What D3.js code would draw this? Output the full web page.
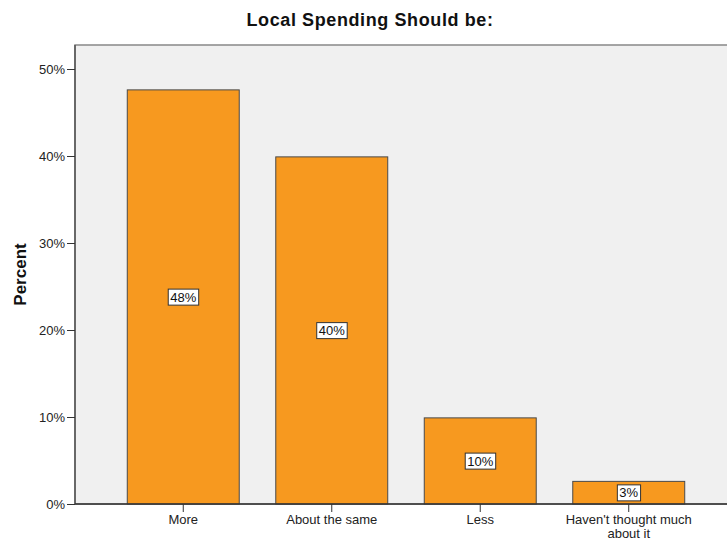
<!DOCTYPE html>
<html>
<head>
<meta charset="utf-8">
<script src="https://cdn.jsdelivr.net/npm/d3@7"></script>
<style>
  body { margin: 0; background: #fff; }
  text { font-family: "Liberation Sans", Arial, sans-serif; }
</style>
</head>
<body>
<div id="container"></div>
<script>
/* DATA */
const categories = ["More", "About the same", "Less", "Haven't thought much about it"];
const percents = [47.6, 39.9, 9.9, 2.6];
const barLabels = ["48%", "40%", "10%", "3%"];
const yTicks = [0, 10, 20, 30, 40, 50];

/* CONSTANTS */
const width = 727,
  height = 542,
  margin = { top: 45, bottom: 38, left: 75, right: -10 };

const svg = d3.select("#container")
  .append("svg")
  .attr("width", width)
  .attr("height", height);

// scales
const xScale = d3.scaleBand()
  .domain(categories)
  .range([margin.left, width - margin.right])
  .paddingInner(0.246)
  .paddingOuter(0.352);

const yScale = d3.scaleLinear()
  .domain([0, 50])
  .range([504, 69]);

// plot background
svg.append("rect")
  .attr("x", margin.left)
  .attr("y", margin.top)
  .attr("width", width - margin.left + 20)
  .attr("height", yScale(0) - margin.top)
  .attr("fill", "#f0f0f0")
  .attr("stroke", "#888")
  .attr("stroke-width", 1.5);

// bars
svg.selectAll(".bar")
  .data(percents)
  .join("rect")
  .attr("class", "bar")
  .attr("x", (d, i) => xScale(categories[i]))
  .attr("y", d => yScale(d))
  .attr("width", xScale.bandwidth())
  .attr("height", d => yScale(0) - yScale(d))
  .attr("fill", "#f7991f")
  .attr("stroke", "#4a4a4a")
  .attr("stroke-width", 1);

// value labels
const lab = svg.selectAll(".lab")
  .data(percents)
  .join("g")
  .attr("class", "lab")
  .attr("transform", (d, i) => `translate(${xScale(categories[i]) + xScale.bandwidth() / 2}, ${(yScale(d) + yScale(0)) / 2})`);

lab.append("text")
  .attr("text-anchor", "middle")
  .attr("dy", "0.36em")
  .attr("font-size", 13)
  .attr("fill", "#111")
  .text((d, i) => barLabels[i]);

lab.each(function () {
  const g = d3.select(this);
  const bb = g.select("text").node().getBBox();
  g.insert("rect", "text")
    .attr("x", bb.x - 2)
    .attr("y", bb.y - 0.5)
    .attr("width", bb.width + 4)
    .attr("height", bb.height + 1)
    .attr("fill", "#fff")
    .attr("stroke", "#333")
    .attr("stroke-width", 1);
});

// axes
const yAxis = d3.axisLeft(yScale)
  .tickValues(yTicks)
  .tickFormat(d => d + "%")
  .tickSize(8)
  .tickPadding(2);

svg.append("g")
  .attr("transform", `translate(${margin.left}, 0)`)
  .call(yAxis)
  .call(g => g.select(".domain").attr("d", `M0,${margin.top}V${yScale(0)}`).attr("stroke", "#555").attr("stroke-width", 1.5))
  .call(g => g.selectAll(".tick line").attr("stroke", "#333"))
  .call(g => g.selectAll(".tick text").attr("font-size", 13).attr("fill", "#222").attr("font-family", "Liberation Sans, Arial, sans-serif"));

const xAxis = d3.axisBottom(xScale)
  .tickSize(8)
  .tickPadding(3);

const xg = svg.append("g")
  .attr("transform", `translate(0, ${yScale(0)})`)
  .call(xAxis)
  .call(g => g.select(".domain").attr("d", `M${margin.left},0H${width}`).attr("stroke", "#333").attr("stroke-width", 1.5))
  .call(g => g.selectAll(".tick line").attr("stroke", "#333"))
  .call(g => g.selectAll(".tick text").attr("font-size", 13).attr("fill", "#222").attr("font-family", "Liberation Sans, Arial, sans-serif"));

// wrap the long label onto two lines
xg.selectAll(".tick text")
  .filter(d => d === "Haven't thought much about it")
  .text(null)
  .call(t => {
    t.append("tspan").attr("x", 0).attr("dy", "0.66em").text("Haven't thought much");
    t.append("tspan").attr("x", 0).attr("dy", "1.12em").text("about it");
  })
  .attr("dy", null);

// title
svg.append("text")
  .attr("x", 370)
  .attr("y", 26)
  .attr("text-anchor", "middle")
  .attr("font-size", 18)
  .attr("font-weight", "bold")
  .attr("letter-spacing", 0.6)
  .attr("fill", "#111")
  .text("Local Spending Should be:");

// y label
svg.append("text")
  .attr("transform", `translate(26, ${(margin.top + yScale(0)) / 2}) rotate(-90)`)
  .attr("text-anchor", "middle")
  .attr("font-size", 17)
  .attr("font-weight", "bold")
  .attr("fill", "#111")
  .text("Percent");
</script>
</body>
</html>
